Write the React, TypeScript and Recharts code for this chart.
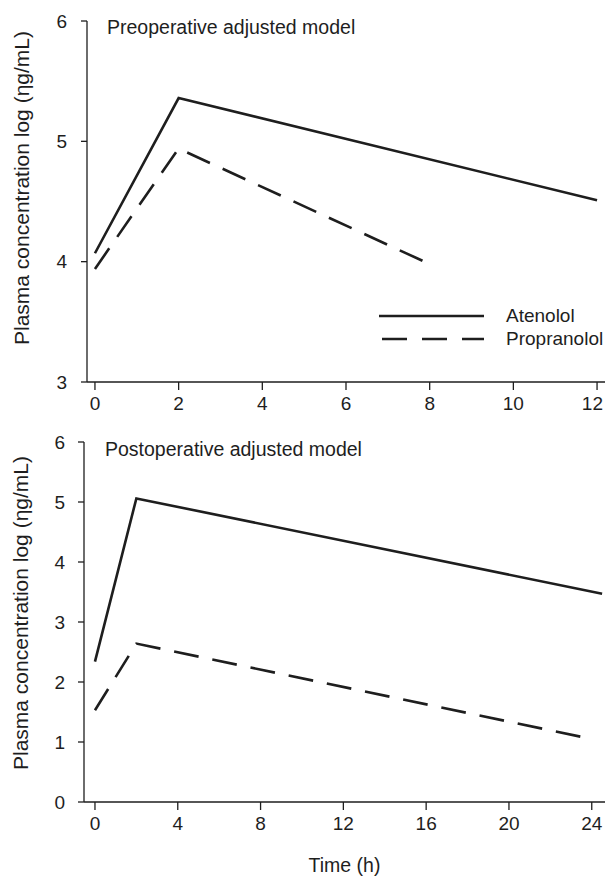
import React from "react";
import { LineChart, Line, XAxis, YAxis, Legend } from "recharts";

const preAtenololTime = [0, 2, 12];
const preAtenolol = [4.07, 5.36, 4.51];
const prePropranololTime = [0, 2, 8];
const prePropranolol = [3.94, 4.94, 3.98];

const postAtenololTime = [0, 2, 24.5];
const postAtenolol = [2.34, 5.06, 3.47];
const postPropranololTime = [0, 2, 24];
const postPropranolol = [1.53, 2.64, 1.05];

const preXTicks = [0, 2, 4, 6, 8, 10, 12];
const preYTicks = [3, 4, 5, 6];
const postXTicks = [0, 4, 8, 12, 16, 20, 24];
const postYTicks = [0, 1, 2, 3, 4, 5, 6];

const seriesNames = ["Atenolol", "Propranolol"];
const seriesDashes = ["", "25 15"];
const yTitle = "Plasma concentration log (ηg/mL)";
const xTitle = "Time (h)";
const preTitle = "Preoperative adjusted model";
const postTitle = "Postoperative adjusted model";

const INK = "#1e1e1e";
const FONT = 19;
const DASH = "25 14";
const WIDTH = 605;

const toPoints = (times: number[], values: number[]) =>
  times.map((t, i) => ({ t, v: values[i] }));

const YTitle = ({ bx, by }: { bx: number; by: number }) => (
  <text
    x={bx}
    y={by}
    transform={`rotate(-90, ${bx}, ${by})`}
    textAnchor="middle"
    fill={INK}
    fontSize={21}
  >
    {yTitle}
  </text>
);

// x tick that stays inside the picture at the right edge
const XTick = (props: any) => {
  const { x, y, payload } = props;
  const label = String(payload.value);
  const half = (label.length * FONT * 0.556) / 2;
  const shift = Math.min(0, WIDTH - 2 - (x + half));
  return (
    <text
      x={x + shift}
      y={y}
      dy="0.71em"
      textAnchor="middle"
      fill={INK}
      fontSize={FONT}
    >
      {label}
    </text>
  );
};

const LegendBox = () => (
  <div style={{ fontSize: FONT, color: INK }}>
    {seriesNames.map((name, i) => (
      <div
        key={name}
        style={{ display: "flex", alignItems: "center", height: 23 }}
      >
        <svg width={108} height={6} style={{ display: "block" }}>
          <line
            x1={i === 0 ? 0 : 3}
            x2={105}
            y1={3}
            y2={3}
            stroke={INK}
            strokeWidth={2.6}
            strokeDasharray={seriesDashes[i] || undefined}
          />
        </svg>
        <span style={{ marginLeft: 19 }}>{name}</span>
      </div>
    ))}
  </div>
);

const axisProps = {
  stroke: INK,
  axisLine: { stroke: INK, strokeWidth: 1.3 },
  tickLine: { stroke: INK, strokeWidth: 1.3 },
};

const titleStyle: React.CSSProperties = {
  position: "absolute",
  fontSize: 19.5,
  lineHeight: "19px",
  color: INK,
  whiteSpace: "nowrap",
};

const PreChart = () => (
  <div style={{ position: "absolute", left: 0, top: 0 }}>
    <LineChart
      width={WIDTH}
      height={420}
      margin={{ top: 21, right: 0, left: 0, bottom: 8 }}
    >
      <XAxis
        type="number"
        dataKey="t"
        domain={[-0.19, 12.19]}
        ticks={preXTicks}
        interval={0}
        allowDataOverflow
        height={30}
        tickSize={8}
        tickMargin={7}
        tick={<XTick />}
        {...axisProps}
      />
      <YAxis
        type="number"
        domain={[3, 6]}
        ticks={preYTicks}
        interval={0}
        width={87}
        tickSize={6}
        tickMargin={14}
        tick={{ fill: INK, fontSize: FONT }}
        label={<YTitle bx={29} by={188} />}
        {...axisProps}
      />
      <Legend
        layout="vertical"
        align="center"
        verticalAlign="middle"
        wrapperStyle={{ left: 379, top: 304, width: 226 }}
        content={<LegendBox />}
      />
      <Line
        data={toPoints(preAtenololTime, preAtenolol)}
        dataKey="v"
        name={seriesNames[0]}
        type="linear"
        stroke={INK}
        strokeWidth={2.6}
        dot={false}
        isAnimationActive={false}
      />
      <Line
        data={toPoints(prePropranololTime, prePropranolol)}
        dataKey="v"
        name={seriesNames[1]}
        type="linear"
        stroke={INK}
        strokeWidth={2.6}
        strokeDasharray={DASH}
        dot={false}
        isAnimationActive={false}
      />
    </LineChart>
    <div style={{ ...titleStyle, left: 107, top: 18 }}>{preTitle}</div>
  </div>
);

const PostChart = () => (
  <div style={{ position: "absolute", left: 0, top: 420 }}>
    <LineChart
      width={WIDTH}
      height={457}
      margin={{ top: 22, right: 0, left: 0, bottom: 0 }}
    >
      <XAxis
        type="number"
        dataKey="t"
        domain={[-0.53, 24.64]}
        ticks={postXTicks}
        interval={0}
        allowDataOverflow
        height={75}
        tickSize={8}
        tickMargin={7}
        tick={<XTick />}
        label={{
          value: xTitle,
          position: "insideBottom",
          offset: 5,
          fill: INK,
          fontSize: 19.5,
        }}
        {...axisProps}
      />
      <YAxis
        type="number"
        domain={[0, 6]}
        ticks={postYTicks}
        interval={0}
        width={84}
        tickSize={6}
        tickMargin={13}
        tick={{ fill: INK, fontSize: FONT }}
        label={<YTitle bx={28} by={193} />}
        {...axisProps}
      />
      <Line
        data={toPoints(postAtenololTime, postAtenolol)}
        dataKey="v"
        name={seriesNames[0]}
        type="linear"
        stroke={INK}
        strokeWidth={2.6}
        dot={false}
        isAnimationActive={false}
      />
      <Line
        data={toPoints(postPropranololTime, postPropranolol)}
        dataKey="v"
        name={seriesNames[1]}
        type="linear"
        stroke={INK}
        strokeWidth={2.6}
        strokeDasharray={DASH}
        dot={false}
        isAnimationActive={false}
      />
    </LineChart>
    <div style={{ ...titleStyle, left: 105, top: 20 }}>{postTitle}</div>
  </div>
);

export default function App() {
  return (
    <div
      style={{
        position: "absolute",
        left: 0,
        top: 0,
        width: WIDTH,
        height: 877,
        background: "#fff",
        fontFamily: '"Liberation Sans", Arial, sans-serif',
        overflow: "hidden",
      }}
    >
      <PreChart />
      <PostChart />
    </div>
  );
}
